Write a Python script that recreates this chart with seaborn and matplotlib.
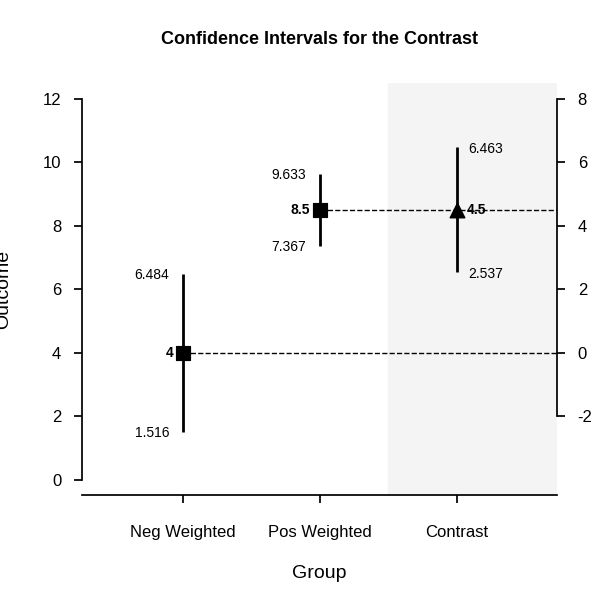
import matplotlib
matplotlib.use("Agg")
import matplotlib.pyplot as plt
import seaborn as sns
import pandas as pd

groups = ["Neg Weighted", "Pos Weighted", "Contrast"]
est = [4.0, 8.5, 4.5]
lower = [1.516, 7.367, 2.537]
upper = [6.484, 9.633, 6.463]
est_labels = ["4", "8.5", "4.5"]
offset = est[0]  # contrast plotted relative to Neg Weighted

sns.set_theme(style="white")
plt.rcParams['font.family'] = ['Arial', 'Liberation Sans', 'DejaVu Sans']
plt.rcParams['text.color'] = 'black'
plt.rcParams['axes.labelcolor'] = 'black'
plt.rcParams['xtick.color'] = 'black'
plt.rcParams['ytick.color'] = 'black'
plt.rcParams['axes.unicode_minus'] = False

fig = plt.figure(figsize=(6, 5.99), dpi=100)
ax = fig.add_axes([0.137, 0.174, 0.791, 0.687])
xs = [1, 2, 3]
ys = [est[0], est[1], est[2] + offset]
lo = [lower[0], lower[1], lower[2] + offset]
hi = [upper[0], upper[1], upper[2] + offset]

df = pd.DataFrame({"x": xs[:2], "y": ys[:2]})
ax.axvspan(2.5, 3.8, color="#f4f4f4", zorder=0)
for i in range(3):
    ax.vlines(xs[i], lo[i], hi[i], color="black", lw=2, zorder=2)
sns.scatterplot(data=df, x="x", y="y", marker="s", s=110, color="black", ax=ax, zorder=3, edgecolor="black")
ax.scatter([xs[2]], [ys[2]], marker="^", s=110, color="black", zorder=3)
ax.hlines(ys[0], xs[0], 3.75, colors="black", linestyles="--", lw=1)
ax.hlines(ys[1], xs[1], 3.75, colors="black", linestyles="--", lw=1)

fs = 10
for i in range(2):
    ax.text(xs[i] - 0.1, hi[i] - 0.05, f"{upper[i]:.3f}", ha="right", va="center", fontsize=fs)
    ax.text(xs[i] - 0.1, lo[i] - 0.05, f"{lower[i]:.3f}", ha="right", va="center", fontsize=fs)
    ax.text(xs[i] - 0.07, ys[i], est_labels[i], ha="right", va="center", fontsize=fs, fontweight="bold")
ax.text(xs[2] + 0.08, hi[2] - 0.05, f"{upper[2]:.3f}", ha="left", va="center", fontsize=fs)
ax.text(xs[2] + 0.08, lo[2] - 0.05, f"{lower[2]:.3f}", ha="left", va="center", fontsize=fs)
ax.text(xs[2] + 0.07, ys[2], est_labels[2], ha="left", va="center", fontsize=fs, fontweight="bold")

ax.set_xlim(0.263, 3.73)
ax.set_ylim(-0.47, 12.48)
ax.set_xticks(xs)
ax.set_xticklabels(groups, fontsize=12)
ax.set_yticks([0, 2, 4, 6, 8, 10, 12])
ax.tick_params(axis="both", labelsize=12, length=6, direction="out", left=True, bottom=True, color="black")
ax.tick_params(axis="x", pad=16)
ax.tick_params(axis="y", pad=9)
ax.set_xlabel("Group", fontsize=14, labelpad=18)
ax.set_ylabel("Outcome", fontsize=14, labelpad=22)
ax.set_title("Confidence Intervals for the Contrast", fontsize=13, fontweight="bold", pad=28)
for s in ["top", "right"]:
    ax.spines[s].set_visible(False)
ax.spines["left"].set_bounds(0, 12)
ax.spines["left"].set_color("black")
ax.spines["bottom"].set_color("black")

ax2 = ax.twinx()
ax2.set_ylim(-0.47 - offset, 12.48 - offset)
ax2.set_yticks([-2, 0, 2, 4, 6, 8])
ax2.tick_params(axis="y", labelsize=12, length=6, right=True, color="black", pad=9)
for s in ["top", "left", "bottom"]:
    ax2.spines[s].set_visible(False)
ax2.spines["right"].set_bounds(-2, 8)
ax2.spines["right"].set_color("black")
ax2.grid(False)
ax.grid(False)

fig.savefig("out.png", dpi=100)
